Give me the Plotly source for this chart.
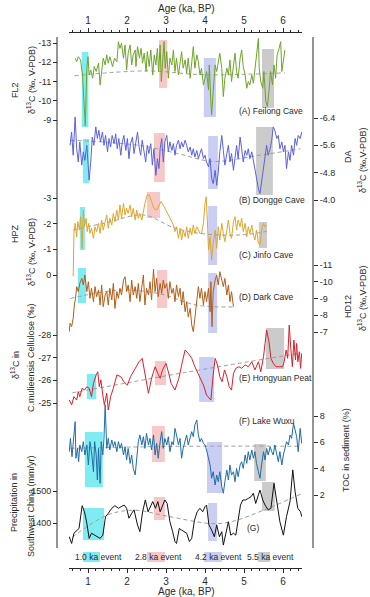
import plotly.graph_objects as go

# ======================= DATA =======================
X_TICKS = [1, 2, 3, 4, 5, 6]
X_TICKTEXT = ["1", "2", "3", "4", "5", "6"]

# (A) Feilong Cave FL2 d13C
A_AGE = [0.67,0.71,0.75,0.81,0.86,0.90,0.93,0.97,1.00,1.03,
         1.07,1.12,1.16,1.21,1.27,1.31,1.35,1.39,1.44,1.48,
         1.52,1.56,1.63,1.68,1.74,1.78,1.82,1.86,1.91,1.95,
         1.99,2.03,2.08,2.12,2.16,2.21,2.23,2.27,2.32,2.36,
         2.40,2.44,2.49,2.52,2.57,2.61,2.66,2.70,2.74,2.78,
         2.81,2.85,2.88,2.92,2.95,2.98,3.02,3.06,3.10,3.15,
         3.19,3.23,3.27,3.32,3.36,3.40,3.44,3.49,3.53,3.57,
         3.62,3.66,3.70,3.74,3.79,3.83,3.87,3.91,3.96,4.00,
         4.04,4.09,4.11,4.15,4.17,4.21,4.26,4.30,4.34,4.38,
         4.43,4.47,4.51,4.56,4.60,4.64,4.68,4.73,4.77,4.81,
         4.85,4.90,4.94,4.98,5.03,5.07,5.11,5.15,5.20,5.24,
         5.28,5.32,5.37,5.39,5.43,5.48,5.51,5.56,5.60,5.64,
         5.68,5.73,5.77,5.81,5.85,5.90,5.94,5.97,6.01,6.05]
A_VAL = [-12.21,-12.03,-12.29,-12.12,-11.34,-9.60,-8.70,-11.69,-12.29,-11.34,
         -11.60,-11.17,-11.78,-11.52,-11.95,-10.82,-11.69,-12.21,-11.86,-12.38,
         -11.95,-12.29,-11.78,-12.21,-12.03,-13.07,-12.72,-12.98,-12.21,-12.90,
         -11.60,-12.47,-12.90,-11.86,-12.38,-12.64,-11.78,-12.81,-12.21,-12.72,
         -11.95,-12.47,-11.52,-12.55,-11.78,-12.64,-11.34,-12.38,-11.86,-12.72,
         -11.52,-12.90,-11.00,-12.38,-13.07,-11.69,-12.55,-11.17,-12.21,-11.86,
         -12.64,-11.52,-12.21,-11.34,-12.03,-12.55,-11.69,-12.12,-11.43,-12.21,
         -11.17,-11.86,-12.81,-11.69,-12.38,-12.03,-11.34,-11.69,-10.82,-11.17,
         -11.52,-10.57,-11.86,-9.96,-9.27,-10.48,-11.86,-11.52,-12.03,-12.47,
         -11.69,-10.22,-11.17,-11.69,-11.34,-12.12,-11.00,-11.86,-12.47,-11.52,
         -11.17,-12.21,-12.64,-11.78,-11.34,-10.65,-11.00,-10.82,-11.34,-10.91,
         -11.69,-12.38,-13.24,-11.69,-11.00,-10.65,-11.52,-9.96,-9.70,-10.48,
         -11.52,-10.82,-11.86,-11.17,-12.38,-12.72,-13.07,-11.52,-12.21,-12.64]
A_TREND_AGE = [0.65, 2.5, 4.0, 6.05]
A_TREND = [-11.3, -11.55, -11.35, -11.45]
A_TICKS = [-13, -12, -11, -10, -9]
A_TICKTEXT = ["-13", "-12", "-11", "-10", "-9"]

# (B) Dongge Cave DA d13C
B_AGE = [0.54,0.58,0.62,0.67,0.71,0.75,0.79,0.84,0.88,0.92,
         0.97,1.01,1.03,1.07,1.11,1.15,1.20,1.24,1.28,1.32,
         1.37,1.41,1.45,1.50,1.54,1.58,1.62,1.67,1.71,1.75,
         1.79,1.84,1.88,1.92,1.97,2.01,2.05,2.09,2.14,2.18,
         2.22,2.27,2.31,2.35,2.39,2.44,2.48,2.52,2.56,2.61,
         2.65,2.69,2.74,2.78,2.82,2.85,2.89,2.93,2.97,3.02,
         3.06,3.10,3.15,3.19,3.23,3.27,3.32,3.36,3.40,3.44,
         3.49,3.53,3.57,3.62,3.66,3.70,3.74,3.79,3.83,3.87,
         3.91,3.96,4.00,4.04,4.09,4.13,4.17,4.21,4.26,4.30,
         4.34,4.38,4.43,4.47,4.51,4.56,4.60,4.64,4.68,4.73,
         4.77,4.81,4.85,4.90,4.94,4.98,5.03,5.07,5.11,5.15,
         5.20,5.24,5.28,5.32,5.37,5.41,5.45,5.50,5.54,5.58,
         5.62,5.67,5.71,5.75,5.79,5.84,5.88,5.92,5.97,6.01,
         6.05,6.09,6.14,6.18,6.22,6.27,6.31,6.35,6.39,6.44,
         6.48]
B_VAL = [-5.60,-5.99,-5.31,-6.43,-5.50,-5.11,-5.70,-5.02,-5.41,-5.16,
         -5.60,-4.87,-4.58,-5.11,-5.84,-5.60,-6.14,-5.80,-6.04,-5.70,
         -5.99,-5.60,-5.89,-5.41,-5.80,-5.55,-5.89,-5.65,-5.94,-5.50,
         -5.80,-5.31,-5.70,-5.89,-5.45,-5.80,-5.21,-5.65,-5.84,-5.36,
         -5.70,-5.99,-5.55,-5.31,-5.75,-5.41,-5.11,-5.60,-5.36,-5.65,
         -5.02,-5.50,-4.72,-5.21,-4.92,-5.50,-5.80,-5.11,-5.70,-5.89,
         -5.41,-5.70,-5.45,-5.65,-5.31,-5.60,-5.75,-5.50,-5.70,-5.55,
         -5.75,-5.60,-5.41,-5.55,-5.31,-5.50,-5.26,-5.45,-5.21,-5.36,
         -5.50,-5.21,-5.31,-5.11,-4.97,-5.21,-4.63,-4.48,-4.87,-4.43,
         -4.82,-5.41,-5.89,-5.45,-5.02,-5.36,-5.60,-5.11,-5.36,-4.87,
         -5.21,-5.60,-5.21,-5.84,-5.50,-5.11,-5.45,-5.31,-5.50,-5.21,
         -5.41,-5.16,-4.92,-4.63,-4.33,-4.19,-4.53,-4.82,-5.21,-5.60,
         -5.31,-5.50,-5.75,-6.14,-6.04,-5.80,-5.89,-5.50,-5.70,-5.41,
         -5.60,-4.92,-5.41,-5.16,-5.60,-5.31,-5.80,-5.60,-5.89,-5.80,
         -5.99]
B_TREND_AGE = [0.55, 2.3, 3.3, 4.2, 5.4, 6.45]
B_TREND = [-5.75, -5.6, -5.36, -5.13, -5.31, -5.5]
B_TICKS = [-6.4, -5.6, -4.8, -4.0]
B_TICKTEXT = ["-6.4", "-5.6", "-4.8", "-4.0"]

# (C) Jinfo Cave HPZ d13C
C_AGE = [0.62,
         0.64,0.67,0.71,0.74,0.78,0.81,0.85,0.88,0.91,0.95,
         0.98,1.02,1.05,1.09,1.14,1.18,1.22,1.27,1.31,1.35,
         1.39,1.44,1.48,1.52,1.56,1.61,1.65,1.69,1.74,1.78,
         1.82,1.86,1.91,1.95,1.99,2.03,2.08,2.12,2.16,2.21,
         2.25,2.29,2.33,2.38,2.42,2.46,2.52,2.57,2.63,2.69,
         2.76,2.82,2.87,2.93,3.02,3.10,3.19,3.23,3.27,3.32,
         3.36,3.40,3.44,3.49,3.53,3.57,3.62,3.66,3.70,3.74,
         3.79,3.83,3.87,3.91,3.96,4.00,4.03,4.06,4.09,4.13,
         4.17,4.21,4.26,4.30,4.34,4.38,4.43,4.47,4.51,4.56,
         4.60,4.64,4.68,4.73,4.77,4.81,4.85,4.90,4.94,4.98,
         5.03,5.07,5.11,5.15,5.20,5.24,5.28,5.32,5.37,5.41,
         5.45,5.50,5.54,5.58]
C_VAL = [0.05,
         -1.62,-2.01,-1.49,-2.08,-1.75,-2.27,-1.04,-2.53,-1.88,-2.21,
         -1.69,-2.01,-1.62,-1.82,-1.43,-1.88,-1.69,-2.01,-1.62,-2.14,
         -1.75,-2.08,-2.34,-1.82,-2.21,-1.95,-2.40,-2.08,-2.53,-2.14,
         -2.73,-2.21,-2.79,-2.34,-2.60,-2.40,-2.73,-2.27,-2.60,-2.14,
         -2.53,-2.21,-2.40,-2.14,-2.53,-2.79,-3.12,-3.12,-2.86,-2.60,
         -2.53,-2.73,-2.86,-2.73,-2.47,-2.21,-1.95,-1.69,-1.88,-1.43,
         -1.82,-1.36,-1.75,-1.49,-1.88,-1.43,-1.82,-1.56,-1.95,-1.62,
         -1.88,-1.75,-1.62,-1.62,-2.01,-2.79,-3.05,-2.14,-0.97,-1.49,
         -0.58,-1.23,-1.75,-1.04,-1.88,-1.36,-2.01,-1.62,-1.30,-1.75,
         -2.14,-1.62,-1.43,-2.08,-2.27,-1.75,-2.14,-1.88,-2.21,-1.69,
         -2.01,-1.49,-1.88,-1.62,-1.95,-1.56,-1.36,-1.75,-1.23,-1.17,
         -1.75,-2.01,-1.88,-1.95]
C_TREND_AGE = [0.62, 1.5, 2.42, 3.19, 3.87, 4.9, 5.58]
C_TREND = [-1.75, -2.05, -2.34, -1.85, -1.62, -1.56, -1.7]
C_TICKS = [-3, -2, -1, 0]
C_TICKTEXT = ["-3", "-2", "-1", "0"]

# (D) Dark Cave HD12 d13C
D_AGE = [0.52,0.54,0.58,0.62,0.65,0.68,0.71,0.75,0.79,0.84,
         0.88,0.92,0.97,1.01,1.05,1.09,1.14,1.18,1.22,1.27,
         1.31,1.35,1.39,1.44,1.48,1.52,1.56,1.61,1.65,1.69,
         1.74,1.78,1.82,1.86,1.91,1.95,1.99,2.03,2.08,2.12,
         2.16,2.21,2.25,2.29,2.33,2.38,2.42,2.46,2.50,2.55,
         2.59,2.63,2.68,2.72,2.76,2.80,2.85,2.89,2.93,2.97,
         3.02,3.06,3.10,3.15,3.19,3.23,3.27,3.32,3.36,3.40,
         3.44,3.49,3.53,3.57,3.62,3.66,3.70,3.74,3.79,3.83,
         3.87,3.91,3.96,4.00,4.04,4.09,4.13,4.15,4.18,4.21,
         4.26,4.30,4.34,4.38,4.43,4.47,4.51,4.56,4.60,4.64,
         4.68,4.73]
D_VAL = [-7.02,-7.52,-7.32,-7.82,-8.61,-9.01,-9.71,-9.41,-9.90,-10.20,
         -9.81,-10.40,-9.41,-10.00,-9.01,-9.61,-8.81,-9.71,-9.11,-9.51,
         -8.61,-9.81,-8.51,-9.21,-9.41,-8.61,-9.61,-8.91,-9.90,-8.41,
         -9.41,-9.01,-9.61,-9.21,-10.10,-10.30,-9.41,-9.81,-8.81,-10.10,
         -9.21,-9.71,-9.01,-9.90,-8.81,-9.81,-10.40,-8.61,-9.61,-9.21,
         -10.00,-8.91,-10.75,-9.41,-10.20,-9.11,-9.90,-9.31,-10.10,-9.61,
         -9.90,-9.01,-10.00,-9.31,-9.61,-8.81,-9.81,-9.11,-9.61,-8.61,
         -9.41,-8.21,-8.81,-7.91,-8.41,-7.42,-7.02,-7.82,-8.81,-9.71,
         -9.01,-9.61,-8.61,-9.41,-8.81,-9.61,-8.21,-10.00,-7.32,-9.41,
         -10.10,-10.40,-9.81,-10.60,-10.10,-9.71,-10.20,-9.21,-9.81,-8.81,
         -9.41,-8.51]
D_TREND_AGE = [0.55, 1.78, 2.8, 3.8, 4.73]
D_TREND = [-9.0, -9.5, -9.3, -8.6, -8.5]
D_TICKS = [-11, -10, -9, -8, -7]
D_TICKTEXT = ["-11", "-10", "-9", "-8", "-7"]

# (E) Hongyuan Peat cellulose d13C
E_AGE = [0.52,0.58,0.64,0.71,0.75,0.79,0.85,0.91,0.97,1.03,
         1.09,1.14,1.21,1.25,1.29,1.33,1.38,1.42,1.48,1.52,
         1.58,1.65,1.74,1.84,1.92,2.01,2.09,2.21,2.31,2.39,
         2.48,2.55,2.63,2.72,2.79,2.85,2.91,3.00,3.07,3.13,
         3.23,3.33,3.42,3.49,3.57,3.66,3.74,3.85,3.96,4.04,
         4.15,4.21,4.26,4.32,4.38,4.44,4.50,4.56,4.62,4.68,
         4.73,4.79,4.87,4.94,5.03,5.11,5.20,5.28,5.37,5.43,
         5.50,5.54,5.58,5.64,5.69,5.75,5.82,5.91,5.99,6.03,
         6.08,6.12,6.16,6.20,6.24,6.28,6.32,6.35,6.38,6.42,
         6.45,6.48]
E_VAL = [-25.13,-24.91,-25.28,-25.13,-25.50,-25.28,-25.65,-25.57,-25.72,-25.65,
         -25.28,-25.87,-26.24,-26.38,-25.72,-26.02,-25.35,-24.91,-25.43,-24.69,
         -25.28,-25.65,-26.24,-26.16,-25.94,-25.79,-26.16,-26.53,-26.82,-26.97,
         -26.16,-25.43,-26.09,-26.60,-26.31,-26.09,-26.46,-26.75,-26.31,-25.87,
         -25.57,-26.09,-26.82,-27.34,-27.19,-26.97,-26.60,-26.16,-25.79,-25.35,
         -25.13,-26.24,-26.97,-26.68,-26.16,-25.94,-26.46,-26.16,-25.72,-25.57,
         -26.31,-26.53,-26.60,-26.53,-26.68,-26.60,-26.82,-26.46,-26.82,-26.38,
         -27.04,-27.63,-28.22,-27.71,-26.97,-26.75,-26.60,-26.60,-26.60,-26.82,
         -27.34,-26.97,-28.44,-27.41,-26.60,-27.78,-26.90,-27.63,-26.82,-27.26,
         -26.53,-27.19]
E_TREND_AGE = [0.6, 3.5, 6.45]
E_TREND = [-25.45, -26.35, -27.2]
E_TICKS = [-28, -27, -26, -25]
E_TICKTEXT = ["-28", "-27", "-26", "-25"]

# (F) Lake Wuxu TOC
F_AGE = [0.52,0.55,0.59,0.62,0.67,0.69,0.73,0.76,0.79,0.84,
         0.88,0.92,0.97,1.01,1.05,1.09,1.14,1.17,1.21,1.24,
         1.27,1.31,1.34,1.38,1.41,1.44,1.48,1.52,1.56,1.61,
         1.65,1.69,1.74,1.78,1.82,1.86,1.91,1.95,1.99,2.03,
         2.08,2.12,2.16,2.21,2.25,2.29,2.33,2.38,2.42,2.46,
         2.50,2.55,2.59,2.63,2.68,2.72,2.76,2.80,2.85,2.89,
         2.93,2.97,3.02,3.06,3.10,3.15,3.19,3.23,3.27,3.32,
         3.36,3.40,3.44,3.49,3.53,3.57,3.62,3.66,3.70,3.74,
         3.79,3.83,3.87,3.91,3.96,4.00,4.04,4.09,4.13,4.17,
         4.21,4.26,4.30,4.34,4.38,4.43,4.47,4.51,4.56,4.60,
         4.64,4.68,4.73,4.77,4.81,4.85,4.90,4.94,4.98,5.03,
         5.07,5.11,5.15,5.20,5.24,5.28,5.32,5.37,5.41,5.45,
         5.50,5.54,5.58,5.62,5.67,5.71,5.75,5.79,5.84,5.88,
         5.92,5.97,6.01,6.05,6.09,6.14,6.18,6.22,6.27,6.31,
         6.35,6.39,6.44,6.48]
F_VAL = [5.29,6.30,4.91,5.80,7.57,4.79,5.54,4.53,5.80,5.29,
         6.05,5.04,5.80,4.28,6.05,5.29,3.77,6.05,5.04,3.14,
         5.54,2.89,6.05,5.04,6.30,8.90,5.54,6.30,5.42,6.18,
         5.67,6.05,5.29,6.05,5.54,5.92,5.04,5.67,4.66,5.54,
         4.40,5.04,4.02,3.52,5.04,6.05,6.56,5.80,6.43,5.54,
         6.68,5.80,6.30,5.42,6.56,5.04,5.92,4.79,6.05,6.81,
         5.54,6.30,5.80,6.43,5.29,6.05,5.80,7.06,6.56,5.80,
         6.30,4.79,5.54,6.05,6.56,5.80,6.30,6.81,6.43,7.32,
         7.70,6.56,6.05,6.30,5.92,5.80,5.42,4.79,4.28,3.27,
         3.77,2.76,3.52,3.01,3.77,2.63,2.13,3.01,3.90,3.14,
         4.28,3.52,3.77,3.01,4.02,3.39,4.28,4.53,4.02,5.04,
         4.40,5.29,4.66,5.42,4.79,5.29,4.40,3.77,3.27,4.28,
         5.29,4.66,5.54,5.04,5.67,5.29,5.04,5.80,5.16,4.53,
         5.29,4.28,5.04,5.54,6.05,5.80,6.56,6.30,7.44,6.94,
         6.43,5.29,7.06,5.92]
F_TREND_AGE = [0.55, 3.5, 6.45]
F_TREND = [5.55, 5.7, 5.7]
F_TICKS = [2, 4, 6, 8]
F_TICKTEXT = ["2", "4", "6", "8"]

# (G) Southwest China precipitation
G_AGE = [0.52,0.58,0.64,0.71,0.77,0.85,0.91,0.97,1.03,1.09,
         1.16,1.24,1.31,1.38,1.45,1.52,1.61,1.69,1.78,1.85,
         1.93,1.99,2.05,2.12,2.18,2.27,2.33,2.40,2.47,2.54,
         2.61,2.66,2.73,2.79,2.85,2.91,2.97,3.03,3.10,3.17,
         3.23,3.27,3.34,3.40,3.46,3.53,3.60,3.66,3.73,3.80,
         3.87,3.94,4.00,4.04,4.10,4.17,4.24,4.30,4.37,4.43,
         4.47,4.54,4.60,4.66,4.73,4.79,4.85,4.91,4.97,5.04,
         5.11,5.18,5.24,5.30,5.37,5.41,5.48,5.54,5.62,5.69,
         5.77,5.84,5.92,6.01,6.09,6.18,6.25,6.31,6.38,6.45,
         6.48]
G_VAL = [1357,1336,1368,1378,1383,1454,1435,1399,1352,1368,
         1362,1357,1352,1362,1420,1430,1446,1454,1446,1451,
         1456,1446,1415,1430,1441,1394,1373,1435,1472,1435,
         1451,1467,1446,1467,1435,1456,1472,1461,1404,1373,
         1342,1336,1383,1378,1373,1368,1342,1352,1409,1435,
         1446,1435,1451,1456,1394,1378,1357,1394,1357,1373,
         1331,1368,1404,1362,1368,1362,1409,1456,1472,1472,
         1477,1482,1493,1461,1488,1503,1472,1456,1441,1446,
         1524,1467,1404,1362,1420,1467,1566,1498,1446,1435,
         1420]
G_TREND_AGE = [0.6, 1.5, 2.2, 3.0, 4.2, 4.7, 5.5, 6.45]
G_TREND = [1356, 1425, 1440, 1422, 1398, 1405, 1440, 1490]
G_TICKS = [1400, 1500]
G_TICKTEXT = ["1400", "1500"]

# climate-event windows (ka) shaded in each record: 1.0, 2.8, 4.2, 5.5 ka events
EVENT_NAMES = ["1.0 ka event", "2.8 ka event", "4.2 ka event", "5.5 ka event"]
A_EVENTS = [(0.84, 1.01), (2.82, 3.03), (3.97, 4.28), (5.46, 5.77)]
B_EVENTS = [(0.87, 1.03), (2.69, 2.97), (4.08, 4.33), (5.31, 5.74)]
C_EVENTS = [(0.79, 0.92), (2.51, 2.85), (4.08, 4.31), (5.38, 5.59)]
D_EVENTS = [(0.74, 0.95), (2.77, 3.03), (4.08, 4.31), None]
E_EVENTS = [(0.97, 1.21), (2.72, 3.00), (3.85, 4.23), (5.56, 6.03)]
F_EVENTS = [(0.92, 1.38), (2.64, 2.97), (4.05, 4.44), (5.26, 5.56)]
G_EVENTS = [(0.87, 1.41), (2.69, 2.97), (4.08, 4.31), (5.46, 5.79)]

# ======================= LAYOUT / STYLE =======================
FIG_W, FIG_H = 370, 597
ML, MR, MT, MB = 57, 57, 32, 29
PW = FIG_W - ML - MR
PH = FIG_H - MT - MB
FONT = "Liberation Sans, Arial, sans-serif"
INK = "#2a2a2a"
EVENT_COLORS = ["#7fecf1", "#f6c8c8", "#cacef3", "#cbcbcb"]
TREND_STYLE = dict(color="#9c9c9c", width=1, dash="4px,3px", shape="spline")


def px(xp):
    return (xp - ML) / PW


def py(yp):
    return (FIG_H - MB - yp) / PH


def lin(v1, p1, v2, p2, p):
    return v1 + (p - p1) * (v2 - v1) / (p2 - p1)


X_RANGE = [lin(1, 88, 6, 283, 69), lin(1, 88, 6, 283, 302)]
X_DOMAIN = [px(69), px(302)]

PANELS = [
    dict(side="left", cal=(-13, 43, -9, 120), span=(35, 130), ticks=A_TICKS, text=A_TICKTEXT,
         age=A_AGE, val=A_VAL, tage=A_TREND_AGE, tval=A_TREND, color="#6ea52b", events=A_EVENTS,
         band_y=[(52, 127), (40, 88), (58, 117), (49, 108)]),
    dict(side="right", cal=(-6.4, 118, -4.0, 200), span=(110, 202), ticks=B_TICKS, text=B_TICKTEXT,
         age=B_AGE, val=B_VAL, tage=B_TREND_AGE, tval=B_TREND, color="#5a62dd", events=B_EVENTS,
         band_y=[(139, 183), (133, 182), (136, 189), (127, 195)]),
    dict(side="left", cal=(-3, 198, 0, 275), span=(186, 282), ticks=C_TICKS, text=C_TICKTEXT,
         age=C_AGE, val=C_VAL, tage=C_TREND_AGE, tval=C_TREND, color="#e0a62c", events=C_EVENTS,
         band_y=[(207, 250), (192, 218), (206, 265), (222, 248)]),
    dict(side="right", cal=(-11, 265, -7, 332), span=(256, 342), ticks=D_TICKS, text=D_TICKTEXT,
         age=D_AGE, val=D_VAL, tage=D_TREND_AGE, tval=D_TREND, color="#b25f18", events=D_EVENTS,
         band_y=[(268, 303), (270, 308), (273, 333), None]),
    dict(side="left", cal=(-28, 335, -25, 403), span=(318, 415), ticks=E_TICKS, text=E_TICKTEXT,
         age=E_AGE, val=E_VAL, tage=E_TREND_AGE, tval=E_TREND, color="#d6222b", events=E_EVENTS,
         band_y=[(374, 399), (361, 385), (357, 402), (328, 369)]),
    dict(side="right", cal=(8, 416, 2, 495), span=(405, 500), ticks=F_TICKS, text=F_TICKTEXT,
         age=F_AGE, val=F_VAL, tage=F_TREND_AGE, tval=F_TREND, color="#1f6ea6", events=F_EVENTS,
         band_y=[(432, 487), (426, 462), (442, 493), (444, 481)]),
    dict(side="left", cal=(1500, 491, 1400, 523), span=(466, 548), ticks=G_TICKS, text=G_TICKTEXT,
         age=G_AGE, val=G_VAL, tage=G_TREND_AGE, tval=G_TREND, color="#111111", events=G_EVENTS,
         band_y=[(508, 540), (497, 520), (503, 541), (482, 511)]),
]

fig = go.Figure()
layout = {}
shapes = []

for i, p in enumerate(PANELS):
    yname = "y" if i == 0 else f"y{i + 1}"
    ykey = "yaxis" if i == 0 else f"yaxis{i + 1}"
    v1, p1, v2, p2 = p["cal"]
    ptop, pbot = p["span"]
    layout[ykey] = dict(
        domain=[py(pbot), py(ptop)],
        range=[lin(v1, p1, v2, p2, pbot), lin(v1, p1, v2, p2, ptop)],
        anchor="free", position=0 if p["side"] == "left" else 1, side=p["side"],
        automargin=False,
        showline=False, showgrid=False, zeroline=False,
        ticks="outside", ticklen=4, tickwidth=1, tickcolor=INK,
        tickvals=p["ticks"], ticktext=p["text"],
        tickfont=dict(size=9, color=INK, family=FONT), fixedrange=True,
    )
    fig.add_trace(go.Scatter(x=p["tage"], y=p["tval"], mode="lines", line=TREND_STYLE,
                             xaxis="x", yaxis=yname, showlegend=False, hoverinfo="skip"))
    fig.add_trace(go.Scatter(x=p["age"], y=p["val"], mode="lines",
                             line=dict(color=p["color"], width=1),
                             xaxis="x", yaxis=yname, showlegend=False, hoverinfo="skip"))
    for k, ev in enumerate(p["events"]):
        if ev is None or p["band_y"][k] is None:
            continue
        bt, bb = p["band_y"][k]
        shapes.append(dict(type="rect", xref="x", yref="paper", x0=ev[0], x1=ev[1],
                           y0=py(bb), y1=py(bt), fillcolor=EVENT_COLORS[k],
                           line=dict(width=0), layer="below"))

# dummy trace so the top axis is drawn
fig.add_trace(go.Scatter(x=[], y=[], xaxis="x2", yaxis="y", showlegend=False))

# vertical frame lines
for xp in (0, 1):
    shapes.append(dict(type="line", xref="paper", yref="paper", x0=xp, x1=xp,
                       y0=py(548), y1=py(37), line=dict(color=INK, width=1)))

# event-label highlight boxes
LABEL_BOX_X = [(83, 100), (147, 165), (204, 222), (258, 270)]
for k, (a, b) in enumerate(LABEL_BOX_X):
    shapes.append(dict(type="rect", xref="paper", yref="paper", x0=px(a), x1=px(b),
                       y0=py(562), y1=py(552), fillcolor=EVENT_COLORS[k],
                       line=dict(width=0), layer="below"))

xcommon = dict(range=X_RANGE, domain=X_DOMAIN, showline=True, linecolor=INK, linewidth=1,
               automargin=False,
               showgrid=False, zeroline=False, ticks="outside", ticklen=4, tickwidth=1,
               tickcolor=INK, tickvals=X_TICKS, ticktext=X_TICKTEXT,
               tickfont=dict(size=10, color=INK, family=FONT),
               minor=dict(dtick=0.2, tick0=0, ticks="outside", ticklen=2, tickcolor=INK,
                          showgrid=False),
               fixedrange=True)
layout["xaxis"] = dict(xcommon, anchor="free", position=0, side="bottom")
layout["xaxis2"] = dict(xcommon, anchor="free", position=1, side="top", overlaying="x")

ann = []


def add_text(text, xp, yp, size=9, angle=0, xanchor="center"):
    ann.append(dict(text=text, x=px(xp), y=py(yp), xref="paper", yref="paper",
                    showarrow=False, textangle=angle, xanchor=xanchor, yanchor="middle",
                    font=dict(size=size, color=INK, family=FONT)))


D13 = "δ<sup>13</sup>C"
add_text("Age (ka, BP)", 186, 8, size=10)
add_text("Age (ka, BP)", 186, 591, size=10)
add_text("FL2", 15, 90, angle=-90)
add_text(D13 + " (‰, V-PDB)", 31, 80, angle=-90)
add_text("DA", 348, 157, angle=-90)
add_text(D13 + " (‰,V-PDB)", 362, 160, angle=-90)
add_text("HPZ", 15, 234, angle=-90)
add_text(D13 + " (‰, V-PDB)", 31, 252, angle=-90)
add_text("HD12", 348, 307, angle=-90)
add_text(D13 + " (‰,V-PDB)", 362, 298, angle=-90)
add_text(D13 + " in", 15, 365, angle=-90)
add_text("C.mulieensis Cellulose (‰)", 31, 358, angle=-90)
add_text("TOC in sediment (%)", 346, 450, angle=-90)
add_text("Precipitation in", 14, 503, angle=-90)
add_text("Southwest China (mm/yr)", 31, 506, angle=-90)

PANEL_LABELS = [("(A) Feilong Cave", 111), ("(B) Dongge Cave", 200), ("(C) Jinfo Cave", 255),
                ("(D) Dark Cave", 297), ("(E) Hongyuan Peat", 378), ("(F) Lake Wuxu", 421)]
for t, yp in PANEL_LABELS:
    add_text(t, 237, yp, size=8.5, xanchor="left")
add_text("(G)", 245, 528, size=8.5, xanchor="left")

for t, xl in zip(EVENT_NAMES, [73, 133, 193, 245]):
    add_text(t, xl, 557, size=8.5, xanchor="left")

layout.update(dict(
    template="none",
    width=FIG_W, height=FIG_H, autosize=False,
    margin=dict(l=ML, r=MR, t=MT, b=MB, pad=0, autoexpand=False),
    paper_bgcolor="white", plot_bgcolor="rgba(0,0,0,0)",
    showlegend=False, shapes=shapes, annotations=ann,
    font=dict(family=FONT, color=INK),
))
fig.update_layout(**layout)
fig.write_html(
    "out.html",
    config={"displayModeBar": False},
    post_script="document.body.style.margin='0px';document.body.style.padding='0px';"
                "document.body.style.overflow='hidden';",
)
